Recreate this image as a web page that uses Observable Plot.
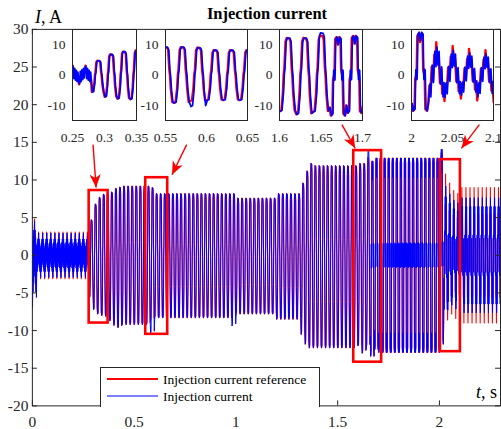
<!DOCTYPE html>
<html>
<head>
<meta charset="utf-8">
<script src="https://cdn.jsdelivr.net/npm/d3@7"></script>
<script src="https://cdn.jsdelivr.net/npm/@observablehq/plot@0.6"></script>
<style>
  html, body { margin: 0; padding: 0; background: #fff; overflow: hidden; width: 501px; height: 429px; }
  #chart { position: relative; width: 501px; height: 429px; font-family: "Liberation Serif", "Times New Roman", serif; color: #262626; }
  #chart svg { position: absolute; overflow: visible; }
  #chart svg text { font-family: "Liberation Serif", "Times New Roman", serif !important; }
  .lbl { position: absolute; white-space: nowrap; line-height: 1; }
  #legend { position: absolute; left: 100px; top: 367px; width: 218px; height: 39px; border: 1px solid #262626; border-bottom: none; background: #fff; }
  #legend div { position: absolute; left: 62px; font-size: 13.5px; white-space: nowrap; color: #000; }
</style>
</head>
<body>
<div id="chart"></div>
<script>
// ---- Injection current: 50 Hz waveform, one entry per run of cycles ----
const period = 0.02;            // s
const cycleOrigin = 0.001;      // s, centre of the first negative plateau

// number of consecutive cycles sharing the same peak levels
const runCycles = [1, 13, 1, 1, 1, 1, 1, 1, 1, 1, 7, 1, 20, 10, 6, 1, 1, 1, 11, 1, 1, 1, 1, 1, 15, 1, 1, 1, 1, 1, 10];
// positive peak of the reference current, A
const runHigh = [4.8, 3.1, 4.7, 6.8, 7.7, 8.1, 8.25, 8.4, 8.9, 9.05, 9.2, 9.0, 8.2, 7.6, 8.2, 9.6, 11.2, 12.2, 11.9, 12.2, 12.2, 13.0, 12.5, 12.9, 12.9, 13.6, 10.8, 9.6, 8.6, 8.2, 9.0];
// negative peak of the reference current, A
const runLow = [-7.0, -3.1, -5.6, -7.2, -7.8, -8.0, -8.1, -8.7, -9.3, -9.6, -9.2, -8.6, -8.3, -7.8, -8.5, -10.5, -11.8, -12.3, -12.3, -12.0, -13.0, -12.2, -13.4, -12.5, -12.9, -11.8, -10.0, -8.6, -7.8, -8.4, -9.0];
// waveform type: h = start-up harmonics, r = harmonic-rich, s = square-like, n = notched square
const runShape = ["h", "h", "s", "s", "s", "s", "s", "s", "s", "s", "s", "s", "s", "s", "s", "s", "s", "s", "s", "s", "s", "s", "n", "n", "n", "n", "r", "r", "r", "r", "r"];

// cycles where the measured current overshoots the reference
const spikeCycle = [29, 49, 82, 100];
const spikeSide = ["low", "low", "high", "high"];
const spikeValue = [-10.4, -9.4, 13.9, 14.1];

// one period of each waveform type: [phase, fraction of the peak]
const squareWave = [[0, -1], [0.1, -0.97], [0.19, -0.5], [0.24, 0.02], [0.28, 0.18], [0.35, 0.9], [0.42, 1], [0.58, 0.99], [0.65, 0.9], [0.72, 0.18], [0.76, -0.02], [0.81, -0.5], [0.9, -0.97]];
const ripple = [[0, -1], [0.08, -0.35], [0.14, -0.6], [0.22, 0.25], [0.3, -0.2], [0.38, 0.62], [0.44, 0.3], [0.5, 1], [0.58, 0.35], [0.64, 0.6], [0.72, -0.25], [0.8, 0.2], [0.86, -0.62], [0.92, -0.3]];
const shapes = {
  s: { ref: squareWave, act: squareWave },
  n: {
    ref: [[0, -0.8], [0.08, -1], [0.17, -0.95], [0.21, -0.12], [0.3, 0.04], [0.34, 0.95], [0.42, 1], [0.5, 0.8], [0.58, 1], [0.66, 0.95], [0.7, 0.12], [0.79, -0.04], [0.83, -0.95], [0.92, -1]],
    act: [[0, -0.8], [0.08, -1], [0.17, -0.95], [0.2, -0.13], [0.215, 0.12], [0.23, -0.13], [0.245, 0.12], [0.26, -0.13], [0.275, 0.12], [0.29, -0.12], [0.305, 0.1], [0.34, 0.95], [0.42, 1], [0.5, 0.8], [0.58, 1], [0.66, 0.95], [0.69, 0.13], [0.705, -0.12], [0.72, 0.13], [0.735, -0.12], [0.75, 0.13], [0.765, -0.12], [0.78, 0.12], [0.795, -0.1], [0.83, -0.95], [0.92, -1]]
  },
  h: {
    ref: ripple,
    act: [[0, -0.95], [0.06, 0.4], [0.12, -0.7], [0.18, 0.55], [0.25, -0.5], [0.31, 0.7], [0.37, -0.3], [0.44, 0.8], [0.5, 0.95], [0.56, -0.4], [0.62, 0.7], [0.68, -0.55], [0.75, 0.5], [0.81, -0.7], [0.87, 0.3], [0.94, -0.8]]
  },
  r: {
    ref: ripple,
    act: [[0, -0.85], [0.07, -0.3], [0.13, -0.72], [0.21, 0.3], [0.29, -0.25], [0.37, 0.72], [0.44, 0.25], [0.5, 0.85], [0.57, 0.3], [0.63, 0.72], [0.71, -0.3], [0.79, 0.25], [0.87, -0.72], [0.93, -0.25]]
  }
};

// axis ticks
const xTicks = [0, 0.5, 1, 1.5, 2];
const yTicks = [-20, -15, -10, -5, 0, 5, 10, 15, 20, 25, 30];
const insetYTicks = [-10, 0, 10];

// zoom windows shown in the four insets
const insetStart = [0.25, 0.55, 1.6, 2.0];
const insetEnd = [0.35, 0.65, 1.7, 2.1];
const insetTicks = [[0.25, 0.3, 0.35], [0.55, 0.6, 0.65], [1.6, 1.65, 1.7], [2, 2.05, 2.1]];

// highlighted intervals on the main trace
const boxStart = [0.279, 0.557, 1.579, 2.005];
const boxEnd = [0.372, 0.665, 1.716, 2.103];
const boxTop = [8.6, 10.3, 13.9, 12.7];
const boxBottom = [-9.0, -10.5, -14.2, -12.8];

// pointers from the insets to the highlighted intervals
const arrowT1 = [0.298, 0.758, 1.521, 2.196];
const arrowI1 = [14.7, 14.7, 17.35, 17.35];
const arrowT2 = [0.313, 0.686, 1.586, 2.108];
const arrowI2 = [9.0, 10.7, 14.2, 14.2];

// ---- expand runs into sampled traces ----
function buildTrace(kind, shift) {
  const pts = [];
  let k = 0;
  runCycles.forEach((n, r) => {
    for (let j = 0; j < n; j++, k++) {
      let hi = runHigh[r], lo = runLow[r];
      if (kind === "act") {
        const s = spikeCycle.indexOf(k);
        if (s >= 0) { if (spikeSide[s] === "high") hi = spikeValue[s]; else lo = spikeValue[s]; }
      }
      for (const [p, v] of shapes[runShape[r]][kind]) {
        pts.push({ t: cycleOrigin + (k + p) * period + shift, i: v >= 0 ? v * hi : -v * lo });
      }
    }
  });
  return pts;
}
const reference = buildTrace("ref", -0.0008);
const actual = buildTrace("act", 0);

const RED = "#ff0000", BLUE = "#0000ff", INK = "#262626";
const FONT = "Liberation Serif";
const chart = document.getElementById("chart");
const fmt = d => String(d);

// ---- main axes ----
const W = 503, H = 429, ML = 32, MR = 1, MT = 29, MB = 22;
const xDom = [0, 2.3], yDom = [-20, 30];
const pxT = (W - ML - MR) / (xDom[1] - xDom[0]);
const pxI = (H - MT - MB) / (yDom[1] - yDom[0]);
const tickT = 5 / pxT, tickI = 5 / pxI;

const arrows = arrowT1.map((t, j) => {
  const dx = (arrowT2[j] - t) * pxT, dy = -(arrowI2[j] - arrowI1[j]) * pxI;
  return { t1: t, i1: arrowI1[j], t2: arrowT2[j], i2: arrowI2[j], rot: Math.atan2(dy, dx) * 180 / Math.PI + 90 };
});
const boxes = boxStart.map((t, j) => ({ t1: t, t2: boxEnd[j], top: boxTop[j], bottom: boxBottom[j] }));

// filled, notched arrowhead with its tip at the origin, pointing up
const arrowHead = {
  draw(ctx, size) {
    const L = Math.sqrt(size);
    ctx.moveTo(0, 0);
    ctx.lineTo(-0.42 * L, L);
    ctx.lineTo(0, 0.72 * L);
    ctx.lineTo(0.42 * L, L);
    ctx.closePath();
  }
};

const main = Plot.plot({
  width: W, height: H,
  marginLeft: ML, marginRight: MR, marginTop: MT, marginBottom: MB,
  style: { fontFamily: FONT, fontSize: "15.5px", color: INK, background: "transparent" },
  x: { domain: xDom },
  y: { domain: yDom },
  marks: [
    Plot.line(reference, { x: "t", y: "i", stroke: RED, strokeWidth: 1.1, clip: true }),
    Plot.line(actual, { x: "t", y: "i", stroke: BLUE, strokeWidth: 1, clip: true }),
    Plot.rect(boxes, { x1: "t1", x2: "t2", y1: "bottom", y2: "top", fill: "none", stroke: RED, strokeWidth: 2.6 }),
    Plot.link(arrows, { x1: "t1", y1: "i1", x2: "t2", y2: "i2", stroke: RED, strokeWidth: 1.4 }),
    Plot.dot(arrows, { x: "t2", y: "i2", symbol: arrowHead, r: 7.5, rotate: "rot", fill: RED, stroke: "none" }),
    Plot.frame({ stroke: INK, strokeWidth: 1 }),
    // inward ticks on all four sides
    Plot.ruleY(yTicks, { x1: xDom[0], x2: xDom[0] + tickT, stroke: INK }),
    Plot.ruleY(yTicks, { x1: xDom[1] - tickT, x2: xDom[1], stroke: INK }),
    Plot.ruleX(xTicks, { y1: yDom[0], y2: yDom[0] + tickI, stroke: INK }),
    Plot.ruleX(xTicks, { y1: yDom[1] - tickI, y2: yDom[1], stroke: INK }),
    Plot.axisX(xTicks, { tickSize: 0, tickPadding: 10, label: null, tickFormat: fmt, fontFamily: FONT, fontSize: 15.5, fill: INK }),
    Plot.axisY(yTicks, { tickSize: 0, tickPadding: 4, label: null, tickFormat: fmt, fontFamily: FONT, fontSize: 15.5, fill: INK })
  ]
});
main.style.left = "0px"; main.style.top = "0px";
chart.appendChild(main);

// ---- insets ----
const insetLeft = [72, 165, 279, 411], insetWidth = [64, 82, 83, 82];
const insetTop = 29, insetHeight = 91;
insetStart.forEach((t0, j) => {
  const t1 = insetEnd[j];
  const inWin = d => d.t >= t0 - 0.01 && d.t <= t1 + 0.01;
  const svg = Plot.plot({
    width: insetWidth[j] + 40, height: insetHeight + 30,
    marginLeft: 30, marginRight: 10, marginTop: 0, marginBottom: 30,
    style: { fontFamily: FONT, fontSize: "13.5px", color: INK, background: "transparent" },
    x: { domain: [t0, t1] },
    y: { domain: [-15, 15] },
    marks: [
      Plot.rect([0], { x1: t0, x2: t1, y1: -15, y2: 15, fill: "#fff" }),
      Plot.line(reference.filter(inWin), { x: "t", y: "i", stroke: RED, strokeWidth: 2.3, clip: true }),
      Plot.line(actual.filter(inWin), { x: "t", y: "i", stroke: BLUE, strokeWidth: 1.7, clip: true }),
      Plot.frame({ stroke: INK, strokeWidth: 1 }),
      Plot.axisX(insetTicks[j], { tickSize: 0, tickPadding: 12, label: null, tickFormat: fmt, fontFamily: FONT, fontSize: 13.5, fill: INK }),
      Plot.axisY(insetYTicks, { tickSize: 0, tickPadding: 7, label: null, tickFormat: fmt, fontFamily: FONT, fontSize: 13.5, fill: INK })
    ]
  });
  svg.style.left = (insetLeft[j] - 30) + "px";
  svg.style.top = insetTop + "px";
  chart.appendChild(svg);
});

// ---- titles and axis names ----
function label(html, css) {
  const d = document.createElement("div");
  d.className = "lbl";
  d.innerHTML = html;
  Object.assign(d.style, css);
  chart.appendChild(d);
}
label("Injection current", { left: "0px", width: "534px", textAlign: "center", top: "6px", fontSize: "16.5px", fontWeight: "bold", color: "#000" });
label("<i>I</i>, A", { left: "35px", top: "8px", fontSize: "18px", color: "#000" });
label("<i>t</i>, s", { right: "4px", top: "383px", fontSize: "18px", color: "#000" });

// ---- legend ----
const legend = document.createElement("div");
legend.id = "legend";
legend.innerHTML =
  '<svg width="218" height="39" style="position:absolute;left:0;top:0">' +
  '<line x1="6" x2="57" y1="11" y2="11" stroke="' + RED + '" stroke-width="2.2"/>' +
  '<line x1="6" x2="57" y1="28" y2="28" stroke="' + BLUE + '" stroke-width="1.1"/></svg>' +
  '<div style="top:4px">Injection current reference</div>' +
  '<div style="top:21px">Injection current</div>';
chart.appendChild(legend);
</script>
</body>
</html>
